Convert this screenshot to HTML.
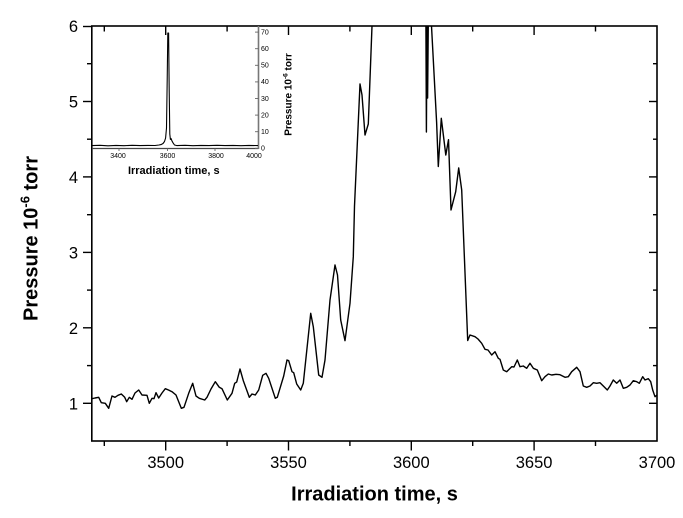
<!DOCTYPE html>
<html>
<head>
<meta charset="utf-8">
<style>
html,body{margin:0;padding:0;background:#fff;}
svg{display:block;}
text{font-family:"Liberation Sans",Arial,sans-serif;fill:#000;}
</style>
</head>
<body>
<svg width="683" height="518" viewBox="0 0 683 518" xmlns="http://www.w3.org/2000/svg">
<rect width="683" height="518" fill="#fff"/>
<defs>
<clipPath id="pc"><rect x="92" y="26" width="565" height="415"/></clipPath>
</defs>

<!-- main curve -->
<polyline clip-path="url(#pc)" fill="none" stroke="#000" stroke-width="1.4" stroke-linejoin="round" points="
92,398.7 95,398 98.7,397.3 101.3,402.7 105.3,403.3 108.7,408.3 112,396 115,397.3 118,395.3 121.3,394 124.7,397.3 126.7,401.7 129.3,397.3 132,399.3 135,393 138.7,390 142,395 147,395.3 149.3,403.3 152,398.3 154,398.7 156,392.7 158.7,398 162,393 165.3,388.7 168.5,390 172,391.7 176,395 178,400 181.3,408.3 184,407.3 188.7,393.3 192.7,383.3 196,396 199.3,398.3 204.7,400 207,397.3 211,389 215.3,381.7 219.3,387.3 222,388.7 227.3,400 232,393.3 234.7,383.3 236.7,382 240,369 243.3,380.7 249.3,397.3 252,394 255.3,395 258.7,390 262.7,375.3 266,373.3 268.7,378.3 275.3,398.3 277.3,397.3 283.7,376 287,360 288.7,360.7 292,371.7 293.7,372.7 296.7,384 300.7,390 303.3,383.3 310.7,313.3 313.3,326.7 318.7,375 322,377.3 325,360 330,300 335,265 337.5,275 340.7,320 345,340.7 350,303.3 353.3,256.7 354.5,206 360,84 362,95 365,135 368.3,124 372,26 373,0
425.8,0 426.4,132 427,20 427.6,98 428.5,0 431,0 431.5,26 436.6,122 438.3,166.5 441.3,118.3 445.8,155 448.5,139.7 451,210 455.7,191.7 458.7,168 461.7,190 467.7,340.5 470,335 475,336.7 478,339 481.7,343.3 485,349.3 488,350 491.7,355 495,351.7 498.3,358.3 500,359.3 503.3,370 506.7,371.7 511.7,366.7 514,367 517.3,360 520,366.7 523.3,366 526.7,368.3 530,363.3 533.3,368.3 537.3,370 541.7,380.7 545,376.7 548.3,374 551.7,375 556,374.3 560,374.7 565,377.3 568.3,376.7 571.7,371.7 576.7,367.3 580,371.7 583.3,386 586.7,387.3 590,386 593.3,382.7 596.7,383.3 600,382.7 603.3,386 607.3,390 610,386 613.3,380 616.7,383.3 620,380 623.3,388.3 626.7,387.3 630,385 633.3,380.7 636.7,381.7 639.3,383.3 642.7,376.7 645,380 648.3,378.7 650.7,381.7 652.7,390 655,396.7 657,395"/>

<!-- frame -->
<rect x="91.8" y="26" width="565.2" height="415" fill="none" stroke="#000" stroke-width="1.6"/>

<!-- bottom ticks (outward) & top ticks (inward) -->
<g stroke="#000" stroke-width="1.4">
<line x1="104.3" y1="441" x2="104.3" y2="446"/>
<line x1="165.7" y1="441" x2="165.7" y2="450.5"/>
<line x1="227.1" y1="441" x2="227.1" y2="446"/>
<line x1="288.5" y1="441" x2="288.5" y2="450.5"/>
<line x1="349.9" y1="441" x2="349.9" y2="446"/>
<line x1="411.3" y1="441" x2="411.3" y2="450.5"/>
<line x1="472.7" y1="441" x2="472.7" y2="446"/>
<line x1="534.1" y1="441" x2="534.1" y2="450.5"/>
<line x1="595.5" y1="441" x2="595.5" y2="446"/>
<line x1="104.3" y1="26" x2="104.3" y2="31.5"/>
<line x1="165.7" y1="26" x2="165.7" y2="35"/>
<line x1="227.1" y1="26" x2="227.1" y2="31.5"/>
<line x1="288.5" y1="26" x2="288.5" y2="35"/>
<line x1="349.9" y1="26" x2="349.9" y2="31.5"/>
<line x1="411.3" y1="26" x2="411.3" y2="35"/>
<line x1="472.7" y1="26" x2="472.7" y2="31.5"/>
<line x1="534.1" y1="26" x2="534.1" y2="35"/>
<line x1="595.5" y1="26" x2="595.5" y2="31.5"/>
<!-- left ticks outward -->
<line x1="83" y1="403.3" x2="92" y2="403.3"/>
<line x1="83" y1="327.8" x2="92" y2="327.8"/>
<line x1="83" y1="252.4" x2="92" y2="252.4"/>
<line x1="83" y1="176.9" x2="92" y2="176.9"/>
<line x1="83" y1="101.5" x2="92" y2="101.5"/>
<line x1="83" y1="26.5" x2="92" y2="26.5"/>
<line x1="87" y1="365.6" x2="92" y2="365.6"/>
<line x1="87" y1="290.1" x2="92" y2="290.1"/>
<line x1="87" y1="214.7" x2="92" y2="214.7"/>
<line x1="87" y1="139.2" x2="92" y2="139.2"/>
<line x1="87" y1="63.7" x2="92" y2="63.7"/>
<!-- right ticks inward -->
<line x1="649" y1="403.3" x2="657" y2="403.3"/>
<line x1="649" y1="327.8" x2="657" y2="327.8"/>
<line x1="649" y1="252.4" x2="657" y2="252.4"/>
<line x1="649" y1="176.9" x2="657" y2="176.9"/>
<line x1="649" y1="101.5" x2="657" y2="101.5"/>
<line x1="653" y1="365.6" x2="657" y2="365.6"/>
<line x1="653" y1="290.1" x2="657" y2="290.1"/>
<line x1="653" y1="214.7" x2="657" y2="214.7"/>
<line x1="653" y1="139.2" x2="657" y2="139.2"/>
<line x1="653" y1="63.7" x2="657" y2="63.7"/>
</g>

<!-- x tick labels -->
<g font-size="16.5" text-anchor="middle">
<text x="165.7" y="468">3500</text>
<text x="288.5" y="468">3550</text>
<text x="411.3" y="468">3600</text>
<text x="534.1" y="468">3650</text>
<text x="657" y="468">3700</text>
</g>
<!-- y tick labels -->
<g font-size="16.5" text-anchor="end">
<text x="78" y="409.3">1</text>
<text x="78" y="333.8">2</text>
<text x="78" y="258.4">3</text>
<text x="78" y="182.9">4</text>
<text x="78" y="107.5">5</text>
<text x="78" y="32">6</text>
</g>

<!-- axis titles -->
<text x="374.5" y="500.5" text-anchor="middle" font-size="20" font-weight="bold">Irradiation time, s</text>
<text transform="translate(37.5,238.5) rotate(-90)" text-anchor="middle" font-size="20" font-weight="bold">Pressure 10<tspan font-size="13" dy="-8">-6</tspan><tspan dy="8"> torr</tspan></text>

<!-- inset -->
<line x1="92" y1="148.5" x2="258.5" y2="148.5" stroke="#444" stroke-width="1.2"/>
<line x1="258.5" y1="26" x2="258.5" y2="149" stroke="#777" stroke-width="1.6"/>
<g stroke="#666" stroke-width="0.9">
<line x1="255" y1="148.3" x2="258.5" y2="148.3"/>
<line x1="255" y1="131.7" x2="258.5" y2="131.7"/>
<line x1="255" y1="115.1" x2="258.5" y2="115.1"/>
<line x1="255" y1="98.5" x2="258.5" y2="98.5"/>
<line x1="255" y1="81.9" x2="258.5" y2="81.9"/>
<line x1="255" y1="65.3" x2="258.5" y2="65.3"/>
<line x1="255" y1="48.7" x2="258.5" y2="48.7"/>
<line x1="255" y1="32.1" x2="258.5" y2="32.1"/>
<line x1="119" y1="148.5" x2="119" y2="151"/>
<line x1="167.5" y1="148.5" x2="167.5" y2="151"/>
<line x1="215" y1="148.5" x2="215" y2="151"/>
</g>
<g font-size="7" fill="#555">
<text x="261" y="150.5" fill="#555">0</text>
<text x="261" y="134" fill="#555">10</text>
<text x="261" y="117.4" fill="#555">20</text>
<text x="261" y="100.8" fill="#555">30</text>
<text x="261" y="84.2" fill="#555">40</text>
<text x="261" y="67.6" fill="#555">50</text>
<text x="261" y="51" fill="#555">60</text>
<text x="261" y="34.4" fill="#555">70</text>
</g>
<g font-size="7" text-anchor="middle">
<text x="118" y="157.8" fill="#444">3400</text>
<text x="167.5" y="157.8" fill="#444">3600</text>
<text x="216" y="157.8" fill="#444">3800</text>
<text x="254" y="157.8" fill="#444">4000</text>
</g>
<polyline fill="none" stroke="#000" stroke-width="1.1" stroke-linejoin="round" points="
92,145.6 100,145.3 108,145.8 116,145.4 124,145.7 132,145.3 140,145.6 148,145.4 155,145.5 159,145 161,144.6 163,143.5 164.5,141.5 165.6,138 166.5,128 167.2,80 167.8,33 168.6,33 169.2,90 169.8,134 170.4,139.5 171,138.5 172,141 173,142.8 174.5,145 177,145.6 185,145.3 193,145.7 201,145.4 209,145.6 217,145.3 225,145.6 233,145.4 241,145.7 249,145.4 258,145.6"/>
<text x="173.8" y="174" text-anchor="middle" font-size="11" font-weight="bold">Irradiation time, s</text>
<text transform="translate(291.5,94.5) rotate(-90)" text-anchor="middle" font-size="10" font-weight="bold">Pressure 10<tspan font-size="6.5" dy="-4">-6</tspan><tspan dy="4"> torr</tspan></text>
</svg>
</body>
</html>
